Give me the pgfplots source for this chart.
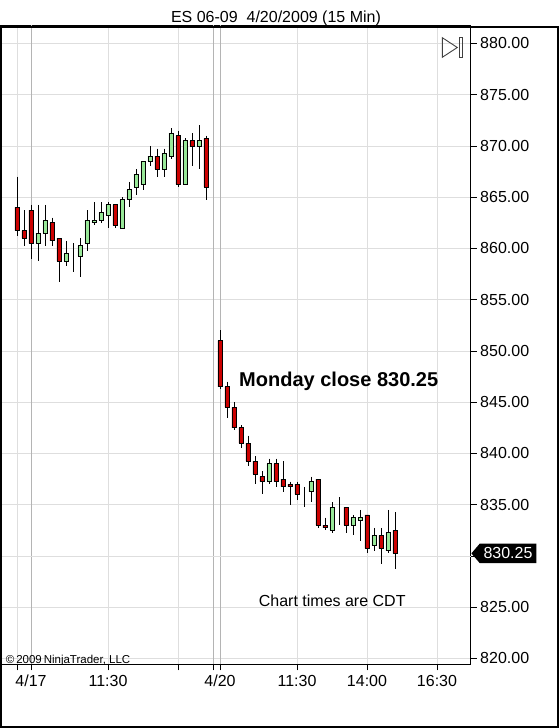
\documentclass[border=0pt]{standalone}
\usepackage{fontspec}
\setmainfont{Liberation Sans}
\usepackage{pgfplots}
\usepackage{pgfplotstable}
\pgfplotsset{compat=1.18}
\definecolor{downred}{RGB}{204,0,0}
\definecolor{upgreen}{RGB}{152,232,152}
\definecolor{gridgray}{RGB}{222,222,222}
\definecolor{sessgray}{RGB}{180,180,180}
\pgfplotstableread{
i  O      H      L      C
0  864.00 867.00 861.25 861.75
1  861.75 863.75 860.25 861.00
2  863.75 864.25 859.00 860.50
3  860.50 864.25 858.75 861.50
4  861.50 864.25 860.25 862.75
5  862.50 863.00 860.25 860.75
6  861.00 861.00 856.75 858.75
7  858.75 860.75 858.25 859.50
8  859.25 860.50 857.75 859.25
9  859.25 861.00 857.25 860.25
10 860.50 863.75 859.75 862.75
11 862.50 864.50 862.25 862.75
12 862.75 864.50 862.50 863.50
13 863.25 864.50 862.00 864.25
14 864.25 864.25 862.00 862.25
15 862.00 865.00 862.00 864.75
16 864.75 866.50 864.00 865.75
17 866.00 867.75 865.25 867.25
18 866.25 868.50 865.75 868.50
19 868.50 870.00 868.00 869.00
20 869.00 869.75 867.00 867.75
21 867.75 869.75 867.00 869.25
22 869.00 871.75 868.75 871.25
23 871.00 871.50 866.00 866.25
24 866.25 870.75 866.25 870.50
25 870.50 871.25 868.00 870.00
26 870.00 872.00 867.75 870.50
27 870.75 871.00 864.75 866.00
28 867.00 867.00 867.00 867.00
29 851.00 852.00 846.25 846.50
30 846.50 847.00 843.50 844.50
31 844.50 845.00 842.25 842.50
32 842.50 842.75 840.50 841.00
33 841.00 841.75 838.75 839.25
34 839.25 839.75 837.00 838.00
35 837.75 838.25 836.00 837.25
36 837.25 839.50 837.00 839.00
37 839.00 839.50 836.75 837.25
38 837.50 839.25 836.25 836.75
39 837.00 837.25 835.00 836.75
40 837.00 837.25 835.50 836.00
41 836.25 836.75 834.75 836.25
42 836.25 837.75 835.25 837.25
43 837.50 837.50 832.75 833.00
44 833.00 833.75 832.50 832.75
45 832.50 835.25 832.25 834.75
46 834.75 835.75 833.00 834.75
47 834.75 834.75 832.25 833.00
48 833.00 834.00 832.00 833.75
49 833.50 834.50 831.50 833.75
50 834.00 834.00 830.25 830.75
51 831.00 832.75 830.50 832.00
52 832.00 832.75 829.25 830.75
53 830.50 834.50 830.25 832.25
54 832.50 834.25 828.75 830.25
}\candles
\pgfplotsset{
  chartbox/.style={
    at={(1,62)}, anchor=south west,
    width=470pt, height=639pt, scale only axis,
    xmin=-2.329, xmax=64.814, ymin=819.415, ymax=881.756,
  }
}
\begin{document}
\begin{tikzpicture}[x=1pt,y=1pt]
\begin{axis}[chartbox,
  axis line style={black, line width=1pt},
  xtick={0,13,23,40,50,60},
  xticklabels={,11:30,,11:30,14:00,16:30},
  extra x ticks={2,28,29},
  extra x tick labels={4/17,,4/20},
  extra x tick style={major grid style={sessgray, line width=0.8pt}},
  xtick pos=bottom,
  ytick={820,825,835,840,845,850,855,860,865,870,875,880},
  extra y ticks={830},
  extra y tick labels={},
  ytick pos=right,
  yticklabel pos=right,
  tick align=outside,
  major tick length=6pt,
  tick style={black, line width=0.8pt},
  xmajorgrids, ymajorgrids,
  major grid style={gridgray, line width=0.8pt},
  ticklabel style={font=\fontsize{16}{18}\selectfont},
  yticklabel style={/pgf/number format/.cd, fixed, fixed zerofill, precision=2, assume math mode=true},
  xticklabel style={yshift=-1pt},
]
\addplot[draw=none, mark=none,
  error bars/.cd, y dir=minus, y explicit, error mark=none,
  error bar style={draw=black, line width=0.9pt}]
  table[x=i, y=H, y error expr=\thisrow{H}-\thisrow{L}] {\candles};
\node[font=\fontsize{20}{22}\selectfont\bfseries] at (axis cs:45.96,847.0) {Monday close 830.25};
\node[font=\fontsize{16}{18}\selectfont] at (axis cs:45.03,825.66) {Chart times are CDT};
\node[font=\fontsize{11.5}{12}\selectfont, anchor=west, inner sep=0pt] at (axis cs:-1.614,819.8) {\textcopyright\,2009\,NinjaTrader, LLC};
\coordinate (lastp) at (axis cs:64.814,830.25);
\end{axis}
\begin{axis}[chartbox, hide axis, ybar stacked, bar width=0.6]
\addplot[draw=none, fill=none] table[x=i, y expr={min(\thisrow{O},\thisrow{C})}] {\candles};
\addplot[fill=upgreen, draw=black, line width=0.8pt] table[x=i, y expr={max(\thisrow{C}-\thisrow{O},0)}] {\candles};
\addplot[fill=downred, draw=black, line width=0.8pt] table[x=i, y expr={max(\thisrow{O}-\thisrow{C},0)}] {\candles};
\end{axis}
% current price marker
\fill[black] ([xshift=0.7pt]lastp) -- ++(8.3,9.7) -- ++(56.7,0) -- ++(0,-19.4) -- ++(-56.7,0) -- cycle;
\node[white, font=\fontsize{16}{18}\selectfont] at ([xshift=37.3pt]lastp) {830.25};
% title
\node[font=\fontsize{16}{18}\selectfont] at (276,710) {ES 06-09\ \ 4/20/2009 (15 Min)};
% play icon
\draw[black!75, line width=0.9pt] (442.3,690.3) -- (442.3,670.7) -- (457.3,680.5) -- cycle;
\draw[black!75, line width=0.9pt] (459.3,670.7) rectangle (462.7,690.3);
% outer frame
\draw[black, line width=1.2pt] (1,1) rectangle (558,701);
\pgfresetboundingbox
\useasboundingbox (0,0) rectangle (559,728);
\end{tikzpicture}
\end{document}
